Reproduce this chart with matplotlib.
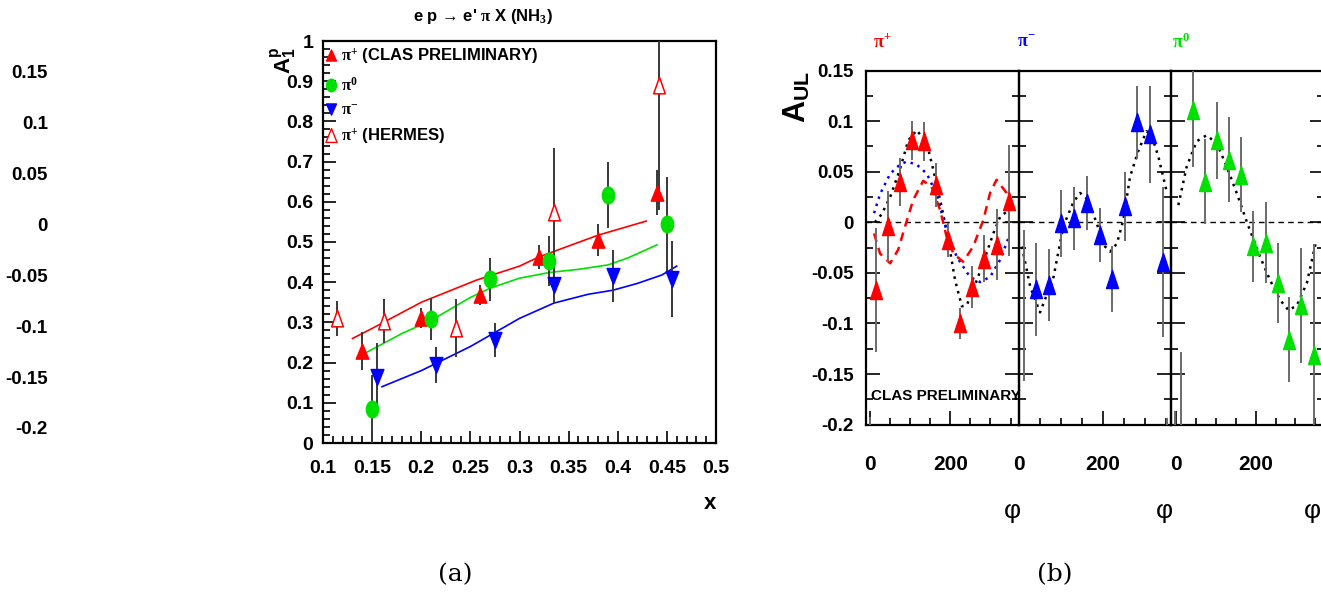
import numpy as np
import matplotlib
matplotlib.use('Agg')
import matplotlib.pyplot as plt
from matplotlib.path import Path
from matplotlib.lines import Line2D
from matplotlib.ticker import MultipleLocator, FixedLocator, FuncFormatter

plt.rcParams['font.family'] = ['Liberation Sans', 'DejaVu Sans']
plt.rcParams['font.weight'] = 'bold'
plt.rcParams['mathtext.fontset'] = 'custom'
plt.rcParams['mathtext.rm'] = 'Liberation Serif'
plt.rcParams['mathtext.it'] = 'Liberation Serif:italic'
plt.rcParams['mathtext.bf'] = 'Liberation Sans:bold'
plt.rcParams['mathtext.default'] = 'rm'

# ---------------- (a) A1p vs x ----------------
x_pip = [0.140, 0.200, 0.260, 0.320, 0.380, 0.440]
y_pip = [0.229, 0.312, 0.368, 0.463, 0.505, 0.623]
e_pip = [0.047, 0.025, 0.025, 0.030, 0.040, 0.055]

x_pi0 = [0.150, 0.210, 0.270, 0.330, 0.390, 0.450]
y_pi0 = [0.084, 0.308, 0.407, 0.453, 0.617, 0.544]
e_pi0 = [0.085, 0.053, 0.053, 0.062, 0.081, 0.118]

x_pim = [0.155, 0.215, 0.275, 0.335, 0.395, 0.455]
y_pim = [0.165, 0.194, 0.256, 0.393, 0.415, 0.408]
e_pim = [0.085, 0.045, 0.043, 0.045, 0.065, 0.095]

x_herm = [0.114, 0.162, 0.235, 0.335, 0.442]
y_herm = [0.310, 0.304, 0.285, 0.574, 0.890]
e_herm = [0.044, 0.055, 0.072, 0.160, 0.310]

# model curves
cx_pip = [0.13, 0.15, 0.20, 0.256, 0.30, 0.32, 0.35, 0.38, 0.429]
cy_pip = [0.26, 0.285, 0.35, 0.405, 0.44, 0.463, 0.49, 0.517, 0.552]
cx_pi0 = [0.144, 0.18, 0.21, 0.25, 0.27, 0.30, 0.33, 0.36, 0.39, 0.41, 0.44]
cy_pi0 = [0.225, 0.272, 0.305, 0.362, 0.385, 0.41, 0.424, 0.432, 0.443, 0.46, 0.493]
cx_pim = [0.16, 0.20, 0.25, 0.30, 0.335, 0.37, 0.395, 0.42, 0.445, 0.46]
cy_pim = [0.14, 0.18, 0.24, 0.31, 0.348, 0.37, 0.38, 0.397, 0.418, 0.44]

# ---------------- (b) A_UL vs phi ----------------
phi_pip = [15, 45, 75, 105, 135, 165, 195, 225, 255, 285, 315, 345]
aul_pip = [-0.067, -0.004, 0.040, 0.081, 0.080, 0.037, -0.0175, -0.100, -0.064, -0.036, -0.022, 0.0215]
err_pip = [0.061, 0.035, 0.024, 0.019, 0.019, 0.022, 0.017, 0.015, 0.021, 0.023, 0.035, 0.055]

phi_pim = [42, 72, 101, 132, 162, 192, 222, 252, 281, 311, 341]
aul_pim = [-0.066, -0.062, -0.001, 0.004, 0.019, -0.0125, -0.056, 0.016, 0.099, 0.087, -0.039]
err_pim = [0.046, 0.036, 0.033, 0.031, 0.027, 0.027, 0.033, 0.034, 0.036, 0.048, 0.074]

phi_pi0 = [42, 73, 103, 133, 163, 194, 225, 255, 285, 315, 346]
aul_pi0 = [0.111, 0.040, 0.081, 0.062, 0.047, -0.0235, -0.020, -0.060, -0.116, -0.082, -0.131]
err_pi0 = [0.056, 0.042, 0.038, 0.042, 0.037, 0.035, 0.040, 0.040, 0.042, 0.057, 0.110]

# bars whose markers fall outside the frame (phi, low, high)
orph_pip = [(0, -0.25, -0.193)]
orph_pim = [(12, -0.156, -0.009), (351, -0.25, -0.194)]
orph_pi0 = [(-3.5, -0.25, -0.187), (11.6, -0.30, -0.129)]

# fits
fphi_pip = [13, 30, 51, 75, 96, 117, 142, 158, 175, 191, 212, 229, 241, 257, 282, 307, 324, 340, 348]
fval_pip = [0.0, 0.008, 0.025, 0.052, 0.081, 0.091, 0.078, 0.052, 0.022, -0.008, -0.057, -0.083, -0.082,
            -0.067, -0.040, -0.011, 0.0055, 0.0105, 0.009]
bphi_pip = [11, 26, 51, 75, 92, 117, 142, 167, 183, 191, 216, 249, 274, 299, 324, 348]
bval_pip = [0.009, 0.028, 0.048, 0.057, 0.060, 0.057, 0.048, 0.027, 0.003, -0.008, -0.034, -0.054, -0.059,
            -0.054, -0.037, -0.012]
rphi_pip = [11, 26, 51, 71, 88, 108, 133, 154, 175, 191, 208, 232, 257, 282, 299, 315, 340, 348]
rval_pip = [-0.011, -0.031, -0.0405, -0.027, -0.004, 0.022, 0.041, 0.035, 0.012, -0.014, -0.031, -0.039,
            -0.024, 0.002, 0.029, 0.042, 0.029, 0.019]
fphi_pim = [8, 28, 51, 83, 106, 130, 146, 165, 185, 205, 217, 233, 248, 264, 284, 303, 315, 331, 351]
fval_pim = [-0.024, -0.064, -0.089, -0.054, -0.004, 0.020, 0.029, 0.022, -0.001, -0.024, -0.029, -0.021,
            0.002, 0.045, 0.071, 0.090, 0.086, 0.065, 0.030]
fphi_pi0 = [5, 26, 51, 76, 102, 127, 152, 178, 211, 236, 262, 283, 304, 329, 353]
fval_pi0 = [0.017, 0.055, 0.080, 0.086, 0.078, 0.055, 0.029, 0.0, -0.034, -0.057, -0.077, -0.087, -0.082,
            -0.060, -0.0175]

aul_ticks = [0.15, 0.1, 0.05, 0, -0.05, -0.1, -0.15, -0.2]

RED, GREEN, BLUE = '#ff0000', '#00e000', '#0000ff'
TICKFS = 14


def tri(w, up=True):
    h = 0.5 if up else -0.5
    return Path([(0, h), (-w, -h), (w, -h), (0, h)],
                [Path.MOVETO, Path.LINETO, Path.LINETO, Path.CLOSEPOLY])


def ellipse(w):
    c = Path.unit_circle()
    return Path(c.vertices * np.array([w, 1.0]), c.codes)


fmt_g = FuncFormatter(lambda v, p: '%g' % round(v, 4) if abs(v) > 1e-9 else '0')

W, H = 1321, 595
fig = plt.figure(figsize=(W / 100, H / 100), dpi=100)


def box(l, t, r, b):
    return [l / W, 1 - b / H, (r - l) / W, (b - t) / H]


# ---------- panel (a) ----------
ax = fig.add_axes(box(323, 41, 716, 443))
ax.set_xlim(0.1, 0.5)
ax.set_ylim(0, 1)
ax.plot(cx_pip, cy_pip, color=RED, lw=1.2, zorder=2)
ax.plot(cx_pi0, cy_pi0, color=GREEN, lw=1.2, zorder=2)
ax.plot(cx_pim, cy_pim, color=BLUE, lw=1.2, zorder=2)
for xs, ys, es in [(x_pip, y_pip, e_pip), (x_pi0, y_pi0, e_pi0), (x_pim, y_pim, e_pim), (x_herm, y_herm, e_herm)]:
    ax.errorbar(xs, ys, yerr=es, fmt='none', ecolor='#383838', elinewidth=1.4, capsize=0, zorder=3)
ax.plot(x_pip, y_pip, ls='none', marker=tri(0.41), ms=11, color=RED, mec=RED, zorder=4)
ax.plot(x_pi0, y_pi0, ls='none', marker=ellipse(0.74), ms=12, color=GREEN, mec=GREEN, zorder=4)
ax.plot(x_pim, y_pim, ls='none', marker=tri(0.4, up=False), ms=11.5, color=BLUE, mec=BLUE, zorder=4)
ax.plot(x_herm, y_herm, ls='none', marker=tri(0.35), ms=12, mfc='white', mec=RED, mew=1.1, zorder=4)

ax.xaxis.set_major_locator(MultipleLocator(0.05))
ax.xaxis.set_minor_locator(MultipleLocator(0.01))
ax.yaxis.set_major_locator(MultipleLocator(0.1))
ax.yaxis.set_minor_locator(MultipleLocator(0.02))
ax.xaxis.set_major_formatter(fmt_g)
ax.yaxis.set_major_formatter(fmt_g)
ax.tick_params(which='both', direction='in', top=False, right=False, width=1.2)
ax.tick_params(which='major', length=9, labelsize=TICKFS)
ax.tick_params(which='minor', length=5)
ax.tick_params(axis='x', which='major', pad=12)
ax.tick_params(axis='y', which='major', pad=7)
for s in ax.spines.values():
    s.set_linewidth(1.6)
ax.text(0.985, -0.15, 'x', transform=ax.transAxes, fontsize=16, ha='center', va='center')

hand = [Line2D([], [], ls='none', marker=tri(0.45), ms=8, color=RED),
        Line2D([], [], ls='none', marker=ellipse(0.8), ms=9, color=GREEN),
        Line2D([], [], ls='none', marker=tri(0.45, up=False), ms=8, color=BLUE),
        Line2D([], [], ls='none', marker=tri(0.4), ms=10, mfc='white', mec=RED, mew=1.0)]
labs = [r'$\pi^{+}$ (CLAS PRELIMINARY)', r'$\pi^{0}$', r'$\pi^{-}$', r'$\pi^{+}$ (HERMES)']
ax.legend(hand, labs, loc='upper left', bbox_to_anchor=(0.0, 0.99), frameon=False, fontsize=12,
          handlelength=0.7, handletextpad=0.3, labelspacing=0.55, borderpad=0.1, borderaxespad=0.0)

fig.text(483 / W, 1 - 16 / H, "e p \u2192 e' $\\pi$ X (NH$_{3}$)", ha='center', va='center', fontsize=12)
fig.text(284 / W, 1 - 60 / H, r'$\mathbf{A}_{\mathbf{1}}^{\mathbf{p}}$', rotation=90, ha='center', va='center',
         fontsize=16)

# ---------- orphan tick column at far left ----------
axo = fig.add_axes(box(48, 72, 60, 428))
axo.set_ylim(-0.2, 0.15)
axo.set_xticks([])
axo.yaxis.set_major_locator(FixedLocator(aul_ticks))
axo.yaxis.set_major_formatter(fmt_g)
axo.tick_params(axis='y', length=0, pad=0, labelsize=13.5)
for s in axo.spines.values():
    s.set_visible(False)
axo.patch.set_visible(False)

# ---------- panel (b) ----------
panels = [
    (866, 1018.5, (-9, 369.5), phi_pip, aul_pip, err_pip, RED, orph_pip,
     [(fphi_pip, fval_pip, 'black', ':'), (bphi_pip, bval_pip, BLUE, ':'), (rphi_pip, rval_pip, RED, '--')]),
    (1018.5, 1171, (0, 361), phi_pim, aul_pim, err_pim, BLUE, orph_pim,
     [(fphi_pim, fval_pim, 'black', ':')]),
    (1171, 1323.5, (-13.6, 371), phi_pi0, aul_pi0, err_pi0, GREEN, orph_pi0,
     [(fphi_pi0, fval_pi0, 'black', ':')]),
]
mk = tri(0.33)
axes_b = []
phi_x = [0.96, 0.96, 0.93]
for i, (l, r, xl, ph, av, ev, col, orph, fits) in enumerate(panels):
    a = fig.add_axes(box(l, 70.5, r, 424.7))
    a.patch.set_visible(False)
    a.set_xlim(*xl)
    a.set_ylim(-0.2, 0.15)
    a.axhline(0, color='black', lw=1.0, ls=(0, (4, 3)), zorder=1)
    for fx, fy, fc, fs in fits:
        if fs == ':':
            a.plot(fx, fy, color=fc, lw=1.8, ls=(0, (1, 2)), zorder=2)
        else:
            a.plot(fx, fy, color=fc, lw=1.8, ls=(0, (3.5, 2.5)), zorder=2)
    a.errorbar(ph, av, yerr=ev, fmt='none', ecolor='#6a6a6a', elinewidth=1.4, capsize=0, zorder=3)
    for (p, lo, hi) in orph:
        a.plot([p, p], [lo, hi], color='#6a6a6a', lw=1.4, zorder=3)
    a.plot(ph, av, ls='none', marker=mk, ms=13, color=col, mec=col, zorder=4)
    a.xaxis.set_major_locator(FixedLocator([0, 200]))
    a.xaxis.set_minor_locator(MultipleLocator(50))
    a.yaxis.set_major_locator(FixedLocator(aul_ticks))
    a.yaxis.set_minor_locator(MultipleLocator(0.025))
    a.xaxis.set_major_formatter(FuncFormatter(lambda v, p: '%d' % v))
    a.yaxis.set_major_formatter(fmt_g)
    a.tick_params(which='both', direction='in', top=False, right=True, width=1.2)
    a.tick_params(which='major', length=10, labelsize=13.5)
    a.tick_params(which='minor', length=5)
    a.tick_params(axis='x', which='major', labelsize=15, pad=22)
    a.tick_params(axis='y', which='major', pad=9)
    if i > 0:
        a.tick_params(axis='y', labelleft=False)
    for s in a.spines.values():
        s.set_linewidth(1.6)
    a.text(phi_x[i], -0.245, '\u03c6', transform=a.transAxes, ha='center', va='center', fontsize=19,
           fontweight='normal', family=['Liberation Sans', 'DejaVu Sans'])
    axes_b.append(a)

axes_b[0].text(0.03, 0.08, 'CLAS PRELIMINARY', transform=axes_b[0].transAxes, ha='left', va='center',
               fontsize=11, zorder=6)
fig.text(797 / W, 1 - 97 / H, r'$\mathbf{A}_{\mathbf{UL}}$', rotation=90, ha='center', va='center', fontsize=22)

for (px, lab, col) in [(882, r'$\pi^{+}$', RED), (1026, r'$\pi^{-}$', BLUE), (1181, r'$\pi^{0}$', GREEN)]:
    fig.text(px / W, 1 - 42 / H, lab, color=col, ha='center', va='center', fontsize=13)

fig.text(455 / W, 1 - 575 / H, '(a)', ha='center', va='center', fontsize=18, family='DejaVu Serif',
         fontweight='normal')
fig.text(1055 / W, 1 - 575 / H, '(b)', ha='center', va='center', fontsize=18, family='DejaVu Serif',
         fontweight='normal')

fig.savefig('out.png', dpi=100, facecolor='white')
